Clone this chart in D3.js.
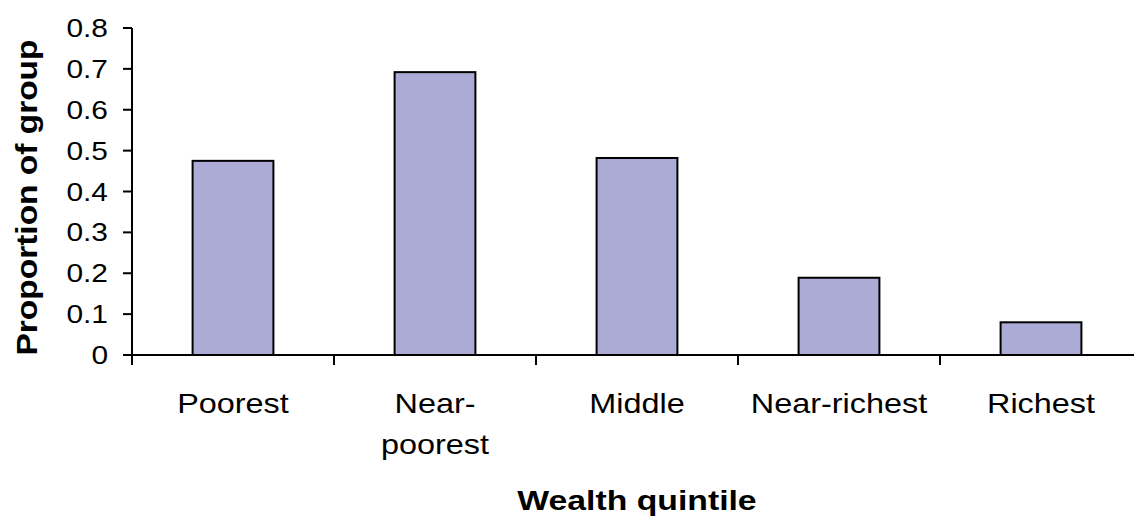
<!DOCTYPE html>
<html><head><meta charset="utf-8">
<script src="https://cdn.jsdelivr.net/npm/d3@7"></script>
<style>
html,body{margin:0;padding:0;background:#fff;}
svg{display:block;}
text{font-family:"Liberation Sans",Arial,sans-serif;fill:#000;}
</style></head>
<body>
<svg id="chart" width="1134" height="517"></svg>
<script>
const categories = [["Poorest"], ["Near-", "poorest"], ["Middle"], ["Near-richest"], ["Richest"]];
const values = [0.475, 0.692, 0.482, 0.189, 0.08];
const yTicks = [0, 0.1, 0.2, 0.3, 0.4, 0.5, 0.6, 0.7, 0.8];
const yTitle = "Proportion of group";
const xTitle = "Wealth quintile";

(function () {
const svg = d3.select("#chart");
const mLeft = 132, mRight = 1142, mTop = 28, mBottom = 355;
const keys = categories.map(c => c.join(" "));
const x = d3.scaleBand().domain(keys).range([mLeft, mRight]).padding(0);
const y = d3.scaleLinear().domain([0, 0.8]).range([mBottom, mTop]);

// bars
svg.append("g").selectAll("rect").data(values).join("rect")
  .attr("x", (d, i) => x(keys[i]) + x.bandwidth() * 0.3)
  .attr("width", x.bandwidth() * 0.4)
  .attr("y", d => y(d))
  .attr("height", d => y(0) - y(d))
  .attr("fill", "#ababd5")
  .attr("stroke", "#000")
  .attr("stroke-width", 2);

// y axis
const ya = svg.append("g");
ya.append("line").attr("x1", mLeft).attr("x2", mLeft).attr("y1", y(0.8)).attr("y2", mBottom + 10)
  .attr("stroke", "#000").attr("stroke-width", 2);
ya.selectAll("line.t").data(yTicks).join("line").attr("class", "t")
  .attr("x1", mLeft - 9).attr("x2", mLeft).attr("y1", d => y(d)).attr("y2", d => y(d))
  .attr("stroke", "#000").attr("stroke-width", 2);
ya.selectAll("text").data(yTicks).join("text")
  .attr("transform", d => `translate(${mLeft - 24},${y(d) + 9}) scale(1.15,1)`)
  .attr("text-anchor", "end")
  .attr("font-size", 26)
  .text(d => d === 0 ? "0" : d3.format(".1f")(d));

// x axis
const xa = svg.append("g");
xa.append("line").attr("x1", mLeft).attr("x2", 1134).attr("y1", mBottom).attr("y2", mBottom)
  .attr("stroke", "#000").attr("stroke-width", 2);
const bounds = keys.map(k => x(k));
xa.selectAll("line.t").data(bounds).join("line").attr("class", "t")
  .attr("x1", d => d).attr("x2", d => d).attr("y1", mBottom).attr("y2", mBottom + 10)
  .attr("stroke", "#000").attr("stroke-width", 2);
const lab = xa.selectAll("g.lab").data(categories).join("g").attr("class", "lab")
  .attr("transform", (d, i) => `translate(${x(keys[i]) + x.bandwidth() / 2},413) scale(1.2,1)`);
lab.selectAll("text").data(d => d).join("text")
  .attr("y", (d, j) => j * 41)
  .attr("text-anchor", "middle")
  .attr("font-size", 27)
  .text(d => d);

// titles
svg.append("text")
  .attr("transform", `translate(${(mLeft + mRight) / 2},510) scale(1.25,1)`)
  .attr("text-anchor", "middle")
  .attr("font-size", 27).attr("font-weight", "bold")
  .text(xTitle);
svg.append("text")
  .attr("transform", `translate(37,${(mTop + mBottom) / 2 + 6}) rotate(-90)`)
  .attr("text-anchor", "middle")
  .attr("font-size", 29).attr("font-weight", "bold")
  .attr("textLength", 316).attr("lengthAdjust", "spacingAndGlyphs")
  .text(yTitle);
})();
</script>
</body></html>
